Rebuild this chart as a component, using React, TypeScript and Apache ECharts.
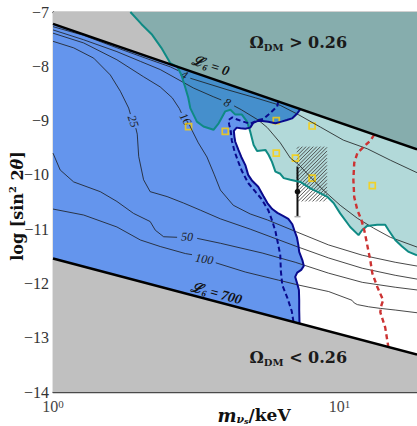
import React, { useEffect, useRef } from "react";
import * as echarts from "echarts";

type Pt = [number, number];

// x values: log10(m_νs / keV); y values: log10(sin^2 2θ)
const X_MIN = 0;
const X_MAX = 1.27;
const Y_MIN = -14;
const Y_MAX = -7;

const xMajorTicks = [0, 1]; // 10^0, 10^1
const xMinorTickMasses = [2, 3, 4, 5, 6, 7, 8, 9];
const yTicks = [-14, -13, -12, -11, -10, -9, -8, -7];

// thick boundaries: L6 = 0 (Ω_DM > 0.26 above) and L6 = 700 (Ω_DM < 0.26 below)
const omegaUpperLine: Pt[] = [[0, -7.22], [1.27, -9.53]];
const omegaLowerLine: Pt[] = [[0, -11.54], [1.27, -13.31]];

// teal exclusion boundary
const tealBoundary: Pt[] = [
  [0.270, -7.00], [0.308, -7.22], [0.346, -7.42], [0.378, -7.66], [0.409, -7.94], [0.434, -8.01],
  [0.448, -8.16], [0.462, -8.40], [0.472, -8.58], [0.479, -8.77], [0.502, -9.02], [0.525, -9.11],
  [0.560, -9.17], [0.578, -9.05], [0.601, -8.83], [0.619, -8.80], [0.636, -8.89], [0.659, -8.89],
  [0.677, -9.02], [0.688, -9.20], [0.700, -9.45], [0.712, -9.56], [0.741, -9.54], [0.752, -9.63],
  [0.764, -9.76], [0.776, -9.94], [0.793, -9.98], [0.805, -10.06], [0.828, -10.09], [0.863, -10.13],
  [0.898, -10.25], [0.921, -10.31], [0.956, -10.40], [0.979, -10.52], [1.002, -10.71], [1.037, -10.96],
  [1.066, -11.11], [1.078, -11.02], [1.096, -10.94], [1.131, -10.92], [1.159, -10.92], [1.171, -11.02],
  [1.194, -11.20], [1.218, -11.32], [1.241, -11.42], [1.27, -11.48],
];

// SDSS (12 bins) — solid navy boundary of the blue region
const sdss12Boundary: Pt[] = [
  [0.863, -8.79], [0.852, -8.87], [0.834, -8.96], [0.816, -8.99], [0.797, -9.02], [0.776, -9.05],
  [0.751, -9.02], [0.730, -9.01], [0.713, -9.01], [0.699, -9.04], [0.688, -9.13], [0.671, -9.15],
  [0.654, -9.14], [0.641, -9.13], [0.631, -9.19], [0.633, -9.30], [0.636, -9.39], [0.647, -9.54],
  [0.657, -9.67], [0.671, -9.82], [0.681, -10.00], [0.695, -10.11], [0.716, -10.22], [0.734, -10.39],
  [0.748, -10.52], [0.765, -10.63], [0.783, -10.70], [0.804, -10.76], [0.821, -10.81], [0.835, -10.91],
  [0.842, -11.02], [0.851, -11.15], [0.856, -11.29], [0.859, -11.42], [0.870, -11.57], [0.875, -11.68],
  [0.866, -11.75], [0.852, -11.80], [0.845, -11.88], [0.852, -12.00], [0.858, -12.12], [0.859, -12.31],
  [0.859, -12.49], [0.860, -12.73],
];

// SDSS (10 bins) — dashed navy
const sdss10Boundary: Pt[] = [
  [0.786, -8.65], [0.782, -8.74], [0.770, -8.80], [0.752, -8.89], [0.734, -8.97], [0.717, -8.99],
  [0.688, -9.06], [0.664, -9.02], [0.643, -8.98], [0.626, -8.94], [0.612, -8.99], [0.615, -9.08],
  [0.620, -9.19], [0.624, -9.37], [0.633, -9.56], [0.645, -9.74], [0.659, -9.93], [0.681, -10.15],
  [0.706, -10.31], [0.727, -10.44], [0.751, -10.65], [0.765, -10.85], [0.776, -11.04], [0.784, -11.24],
  [0.793, -11.48], [0.795, -11.77], [0.800, -12.03], [0.818, -12.27], [0.833, -12.51], [0.839, -12.71],
];

// SDSS + XQ + HR — dashed red
const sdssXqHrBoundary: Pt[] = [
  [1.121, -9.26], [1.107, -9.37], [1.083, -9.49], [1.062, -9.60], [1.051, -9.78], [1.048, -10.09],
  [1.051, -10.41], [1.062, -10.65], [1.076, -10.83], [1.086, -11.02], [1.093, -11.20], [1.100, -11.39],
  [1.107, -11.57], [1.114, -11.81], [1.132, -12.07], [1.152, -12.31], [1.146, -12.40], [1.142, -12.53],
  [1.159, -12.81], [1.170, -13.17],
];

// L6 contours (null = gap for the inline label)
const contour4: (Pt | null)[] = [
  [0, -7.27], [0.107, -7.43], [0.223, -7.66], [0.339, -7.88], [0.409, -8.01], [0.437, -8.08], null,
  [0.479, -8.22], [0.607, -8.43], [0.706, -8.58], [0.793, -8.72], [0.856, -8.89], [0.933, -9.12],
  [1.013, -9.36], [1.097, -9.52], [1.177, -9.73], [1.27, -9.96],
];
const contour8: (Pt | null)[] = [
  [0, -7.33], [0.106, -7.51], [0.223, -7.73], [0.305, -7.91], [0.374, -8.06], [0.490, -8.40],
  [0.559, -8.56], [0.587, -8.62], null, [0.632, -8.73], [0.657, -8.80], [0.716, -8.99], [0.748, -9.13],
  [0.793, -9.41], [0.828, -9.69], [0.859, -9.82], [0.898, -10.04], [0.943, -10.28], [1.002, -10.56],
  [1.062, -10.80], [1.118, -10.98], [1.177, -11.15], [1.27, -11.33],
];
const contour16: (Pt | null)[] = [
  [0, -7.39], [0.107, -7.57], [0.223, -7.88], [0.315, -8.19], [0.374, -8.38], [0.416, -8.58],
  [0.441, -8.78], [0.448, -8.86], null, [0.476, -9.08], [0.486, -9.19], [0.507, -9.41], [0.537, -9.67],
  [0.563, -10.00], [0.584, -10.28], [0.629, -10.56], [0.688, -10.72], [0.748, -10.83], [0.845, -11.04],
  [0.961, -11.29], [1.079, -11.48], [1.194, -11.61], [1.27, -11.68],
];
const contour25: (Pt | null)[] = [
  [0, -7.54], [0.072, -7.66], [0.142, -7.85], [0.200, -8.16], [0.235, -8.46], [0.264, -8.77],
  [0.270, -8.88], null, [0.289, -9.14], [0.294, -9.25], [0.299, -9.66], [0.316, -10.09], [0.339, -10.31],
  [0.398, -10.40], [0.456, -10.52], [0.514, -10.65], [0.584, -10.81], [0.688, -11.00], [0.845, -11.31],
  [0.961, -11.53], [1.079, -11.72], [1.194, -11.85], [1.27, -11.92],
];
const contour50: (Pt | null)[] = [
  [0, -9.60], [0.025, -9.91], [0.072, -10.13], [0.165, -10.31], [0.223, -10.49], [0.281, -10.71],
  [0.339, -10.86], [0.357, -11.02], [0.386, -11.14], [0.433, -11.15], null, [0.503, -11.17],
  [0.584, -11.26], [0.730, -11.44], [0.845, -11.61], [0.961, -11.81], [1.079, -11.98], [1.194, -12.07],
  [1.27, -12.12],
];
const contour100: (Pt | null)[] = [
  [0, -10.63], [0.107, -10.74], [0.223, -10.96], [0.305, -11.20], [0.374, -11.32], [0.462, -11.45],
  [0.485, -11.47], null, [0.568, -11.62], [0.671, -11.79], [0.787, -11.94], [0.857, -12.03],
  [0.962, -12.15], [1.043, -12.31], [1.051, -12.36], [1.062, -12.39], [1.101, -12.43], [1.142, -12.46],
  [1.194, -12.49], [1.27, -12.54],
];

// X-ray line detections (open yellow squares)
const xraySquares: Pt[] = [
  [0.473, -9.11], [0.601, -9.20], [0.779, -9.00], [0.904, -9.10],
  [0.779, -9.60], [0.846, -9.69], [0.904, -10.06], [1.114, -10.20],
];

// hatched box (x range, y range)
const hatchX = [0.851, 0.956];
const hatchY = [-9.48, -10.49];

// 3.5 keV line point with error bar
const errX = 0.853;
const errY = -10.31;
const errHigh = -9.85;
const errLow = -10.77;

const contourLabelTexts = ["4", "8", "16", "25", "50", "100"];
const contourLabelAt: Pt[] = [[0.458, -8.16], [0.608, -8.67], [0.462, -8.97], [0.280, -9.01], [0.468, -11.14], [0.528, -11.55]];
const contourLabelRot = [-0.5, -0.42, -1.02, -1.25, -0.02, -0.15];

const SERIF = '"Liberation Serif", "DejaVu Serif", serif';
const BOLD_SERIF = '"DejaVu Serif", "Liberation Serif", serif';

const NAVY = "#0a0a8c";
const RED = "#cc3333";
const TEAL_LINE = "#0f8a84";

function splitSegments(pts: (Pt | null)[]): Pt[][] {
  const out: Pt[][] = [];
  let cur: Pt[] = [];
  for (const p of pts) {
    if (p === null) {
      if (cur.length) out.push(cur);
      cur = [];
    } else cur.push(p);
  }
  if (cur.length) out.push(cur);
  return out;
}

function lineSeries(pts: (Pt | null)[], color: string, width: number, dash?: number[]) {
  return splitSegments(pts).map((seg) => ({
    type: "line",
    data: seg,
    showSymbol: false,
    symbol: "none",
    silent: true,
    clip: true,
    animation: false,
    emphasis: { disabled: true },
    lineStyle: { color, width, type: dash ?? "solid", cap: "butt" },
  }));
}

function polygonSeries(pts: Pt[], fill: string) {
  return {
    type: "custom",
    silent: true,
    clip: true,
    animation: false,
    data: [pts[0]],
    renderItem: (_p: any, api: any) => ({
      type: "polygon",
      shape: { points: pts.map((p) => api.coord(p)) },
      style: { fill },
    }),
  };
}

export default function App() {
  const ref = useRef<HTMLDivElement>(null);

  useEffect(() => {
    if (!ref.current) return;
    const chart = echarts.init(ref.current, null, { renderer: "svg" });

    const upperGray: Pt[] = [[X_MIN, Y_MAX], [X_MAX, Y_MAX], omegaUpperLine[1], omegaUpperLine[0]];
    const lowerGray: Pt[] = [omegaLowerLine[0], omegaLowerLine[1], [X_MAX, Y_MIN], [X_MIN, Y_MIN]];
    const bluePoly: Pt[] = [omegaUpperLine[0], ...sdss12Boundary, omegaLowerLine[0]];
    const tealPoly: Pt[] = [...tealBoundary, [X_MAX, Y_MAX]];

    const lRich = {
      L: { fontFamily: SERIF, fontStyle: "italic", fontWeight: "bold", fontSize: 14, lineHeight: 16, fill: "#111" },
      s: { fontFamily: SERIF, fontStyle: "italic", fontWeight: "bold", fontSize: 9, lineHeight: 8, verticalAlign: "bottom", fill: "#111" },
      t: { fontFamily: SERIF, fontStyle: "italic", fontWeight: "bold", fontSize: 14, lineHeight: 16, fill: "#111" },
    };
    const oRich = {
      O: { fontFamily: BOLD_SERIF, fontWeight: "bold", fontSize: 16, lineHeight: 20, fill: "#1a1a1a" },
      s: { fontFamily: BOLD_SERIF, fontWeight: "bold", fontSize: 10, lineHeight: 10, verticalAlign: "bottom", fill: "#1a1a1a" },
      t: { fontFamily: BOLD_SERIF, fontWeight: "bold", fontSize: 16, lineHeight: 20, fill: "#1a1a1a" },
    };

    const plotTexts = [
      ...contourLabelTexts.map((t, i) => ({
        text: t,
        at: contourLabelAt[i],
        rot: contourLabelRot[i],
        style: { fontFamily: SERIF, fontStyle: "italic", fontSize: 12, fill: "#1a1a1a" } as any,
      })),
      { text: "{L|ℒ}{s|6}{t| = 0}", at: [0.55, -7.99] as Pt, rot: -0.3, style: { rich: lRich } as any },
      { text: "{L|ℒ}{s|6}{t| = 700}", at: [0.57, -12.18] as Pt, rot: -0.26, style: { rich: lRich } as any },
      { text: "{O|Ω}{s|DM}{t| > 0.26}", at: [0.856, -7.57] as Pt, rot: 0, style: { rich: oRich } as any },
      { text: "{O|Ω}{s|DM}{t| < 0.26}", at: [0.856, -13.36] as Pt, rot: 0, style: { rich: oRich } as any },
    ];

    const minorValues = xMinorTickMasses.map((m) => Math.log10(m));
    const axisLineStyle = { color: "#4a4a4a", width: 1.3 };

    const option: any = {
      animation: false,
      backgroundColor: "#ffffff",
      grid: { left: 53, right: 0, top: 12, bottom: 34, containLabel: false },
      xAxis: [
        {
          type: "value", min: X_MIN, max: X_MAX, interval: 1, position: "bottom",
          axisLine: { show: true, lineStyle: axisLineStyle },
          axisTick: { show: true, inside: true, length: 7, customValues: xMajorTicks, lineStyle: { color: "#4a4a4a" } },
          axisLabel: {
            customValues: xMajorTicks,
            margin: 6,
            formatter: (v: number) => (Math.abs(v) < 1e-9 ? "{b|10}{s|0}" : Math.abs(v - 1) < 1e-9 ? "{b|10}{s|1}" : ""),
            rich: {
              b: { fontFamily: SERIF, fontSize: 16, color: "#444", lineHeight: 16 },
              s: { fontFamily: SERIF, fontSize: 11, color: "#444", lineHeight: 10, verticalAlign: "top" },
            },
          },
          splitLine: { show: false },
        },
        {
          type: "value", min: X_MIN, max: X_MAX, position: "bottom",
          axisLine: { show: false },
          axisTick: { show: true, inside: true, length: 4, customValues: minorValues, lineStyle: { color: "#4a4a4a" } },
          axisLabel: { show: false },
          splitLine: { show: false },
        },
        {
          type: "value", min: X_MIN, max: X_MAX, interval: 1, position: "top",
          axisLine: { show: true, lineStyle: axisLineStyle },
          axisTick: { show: true, inside: true, length: 7, customValues: xMajorTicks, lineStyle: { color: "#4a4a4a" } },
          axisLabel: { show: false },
          splitLine: { show: false },
        },
        {
          type: "value", min: X_MIN, max: X_MAX, position: "top",
          axisLine: { show: false },
          axisTick: { show: true, inside: true, length: 4, customValues: minorValues, lineStyle: { color: "#4a4a4a" } },
          axisLabel: { show: false },
          splitLine: { show: false },
        },
      ],
      yAxis: {
        type: "value", min: Y_MIN, max: Y_MAX, interval: 1,
        axisLine: { show: true, lineStyle: axisLineStyle },
        axisTick: { show: true, inside: true, length: 4, customValues: yTicks, lineStyle: { color: "#4a4a4a" } },
        axisLabel: {
          margin: 4,
          fontFamily: SERIF,
          fontSize: 16,
          color: "#333",
          verticalAlign: "middle",
          formatter: (v: number) => (v < 0 ? "\u2212" + Math.abs(v) : String(v)),
        },
        splitLine: { show: false },
      },
      series: [
        polygonSeries(upperGray, "#c0c0c0"),
        polygonSeries(lowerGray, "#c0c0c0"),
        polygonSeries(bluePoly, "#6495ed"),
        polygonSeries(tealPoly, "rgba(0,128,128,0.3)"),
        {
          type: "custom", silent: true, animation: false,
          data: [[hatchX[0], hatchY[0]]],
          renderItem: (_p: any, api: any) => {
            const a = api.coord([hatchX[0], hatchY[0]]);
            const b = api.coord([hatchX[1], hatchY[1]]);
            const x0 = Math.min(a[0], b[0]), x1 = Math.max(a[0], b[0]);
            const y0 = Math.min(a[1], b[1]), y1 = Math.max(a[1], b[1]);
            const children: any[] = [];
            for (let c = x0 + y0 + 2; c < x1 + y1; c += 3.6) {
              const xs = Math.max(x0, c - y1);
              const xe = Math.min(x1, c - y0);
              if (xe <= xs) continue;
              children.push({ type: "line", shape: { x1: xs, y1: c - xs, x2: xe, y2: c - xe }, style: { stroke: "#444", lineWidth: 0.9 } });
            }
            return { type: "group", children };
          },
        },
        ...lineSeries(contour4, "#1a1a1a", 0.8),
        ...lineSeries(contour8, "#1a1a1a", 0.8),
        ...lineSeries(contour16, "#1a1a1a", 0.8),
        ...lineSeries(contour25, "#1a1a1a", 0.8),
        ...lineSeries(contour50, "#1a1a1a", 0.8),
        ...lineSeries(contour100, "#1a1a1a", 0.8),
        ...lineSeries(tealBoundary, TEAL_LINE, 2),
        ...lineSeries(sdss12Boundary, NAVY, 2),
        ...lineSeries(sdss10Boundary, NAVY, 2, [5, 3]),
        ...lineSeries(sdssXqHrBoundary, RED, 2.4, [5, 3.5]),
        ...lineSeries(omegaUpperLine, "#000", 2.5),
        ...lineSeries(omegaLowerLine, "#000", 2.5),
        {
          type: "scatter", silent: true, animation: false,
          data: xraySquares,
          symbol: "rect", symbolSize: 6,
          itemStyle: { color: "rgba(0,0,0,0)", borderColor: "#ffd000", borderWidth: 1.7 },
        },
        {
          type: "custom", silent: true, animation: false,
          data: [[errX, errY]],
          renderItem: (_p: any, api: any) => {
            const top = api.coord([errX, errHigh]);
            const bot = api.coord([errX, errLow]);
            const mid = api.coord([errX, errY]);
            return {
              type: "group",
              children: [
                { type: "line", shape: { x1: top[0], y1: top[1], x2: bot[0], y2: bot[1] }, style: { stroke: "#111", lineWidth: 2 } },
                { type: "line", shape: { x1: bot[0] - 3, y1: bot[1], x2: bot[0] + 3, y2: bot[1] }, style: { stroke: "#aaa", lineWidth: 1.5 } },
                { type: "circle", shape: { cx: mid[0], cy: mid[1], r: 2.8 }, style: { fill: "#111" } },
              ],
            };
          },
        },
        {
          type: "custom", silent: true, animation: false,
          data: plotTexts.map((t) => t.at),
          renderItem: (params: any, api: any) => {
            const t = plotTexts[params.dataIndex];
            const [x, y] = api.coord(t.at);
            return {
              type: "text",
              x, y,
              rotation: t.rot,
              style: { text: t.text, align: "center", verticalAlign: "middle", ...t.style },
            };
          },
        },
      ],
      graphic: [
        {
          type: "text", x: 17, y: 206, rotation: Math.PI / 2,
          style: {
            text: "{n|log [sin}{p|2}{n| 2}{t|θ}{n|]}",
            align: "center", verticalAlign: "middle",
            rich: {
              n: { fontFamily: BOLD_SERIF, fontWeight: "bold", fontSize: 16, lineHeight: 20, fill: "#111" },
              p: { fontFamily: BOLD_SERIF, fontWeight: "bold", fontSize: 10, lineHeight: 10, verticalAlign: "top", fill: "#111" },
              t: { fontFamily: BOLD_SERIF, fontWeight: "bold", fontStyle: "italic", fontSize: 16, lineHeight: 20, fill: "#111" },
            },
          },
        },
        {
          type: "text", x: 254, y: 415,
          style: {
            text: "{m|m}{v|ν}{s|s}{n|/keV}",
            align: "center", verticalAlign: "middle",
            rich: {
              m: { fontFamily: BOLD_SERIF, fontWeight: "bold", fontStyle: "italic", fontSize: 18, lineHeight: 20, fill: "#111" },
              v: { fontFamily: BOLD_SERIF, fontWeight: "bold", fontStyle: "italic", fontSize: 11, lineHeight: 11, verticalAlign: "bottom", fill: "#111" },
              s: { fontFamily: BOLD_SERIF, fontWeight: "bold", fontStyle: "italic", fontSize: 8, lineHeight: 6, verticalAlign: "bottom", fill: "#111" },
              n: { fontFamily: BOLD_SERIF, fontWeight: "bold", fontSize: 17, lineHeight: 20, fill: "#111" },
            },
          },
        },
        { type: "line", shape: { x1: 68, y1: 333, x2: 88, y2: 333 }, style: { stroke: NAVY, lineWidth: 2, lineDash: [5, 3] } },
        { type: "text", x: 100, y: 333, style: { text: "SDSS (10 bins)", fontFamily: SERIF, fontSize: 13, fill: "#333", verticalAlign: "middle" } },
        { type: "line", shape: { x1: 68, y1: 353, x2: 88, y2: 353 }, style: { stroke: NAVY, lineWidth: 2 } },
        { type: "text", x: 100, y: 353, style: { text: "SDSS (12 bins)", fontFamily: SERIF, fontSize: 13, fill: "#333", verticalAlign: "middle" } },
        { type: "line", shape: { x1: 68, y1: 373, x2: 88, y2: 373 }, style: { stroke: RED, lineWidth: 2, lineDash: [5, 3] } },
        { type: "text", x: 100, y: 373, style: { text: "SDSS + XQ + HR", fontFamily: SERIF, fontSize: 13, fill: "#333", verticalAlign: "middle" } },
      ],
    };

    chart.setOption(option);
    return () => chart.dispose();
  }, []);

  return <div ref={ref} style={{ position: "absolute", left: 0, top: 0, width: 417, height: 426 }} />;
}
